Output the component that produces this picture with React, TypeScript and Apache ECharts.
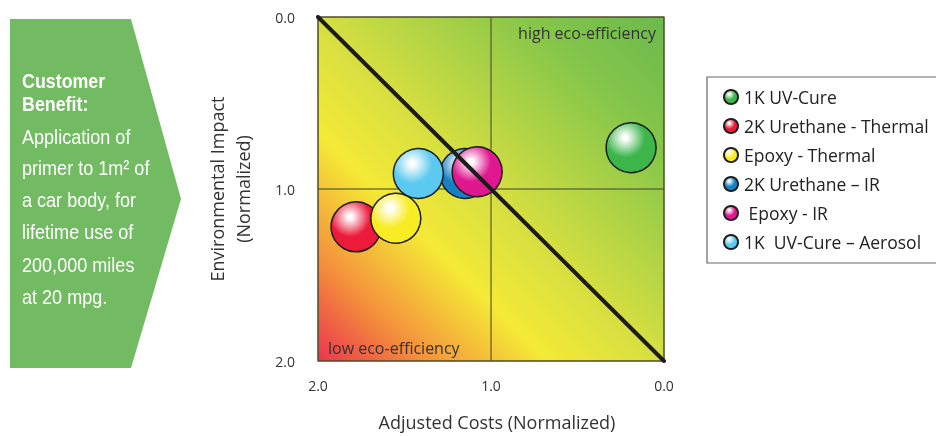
import React, { useEffect, useRef } from "react";
import * as echarts from "echarts";

const seriesNames = [
  "1K UV-Cure",
  "2K Urethane - Thermal",
  "Epoxy - Thermal",
  "2K Urethane – IR",
  " Epoxy - IR",
  "1K  UV-Cure – Aerosol",
];
const adjustedCosts = [0.19, 1.78, 1.55, 1.15, 1.08, 1.42];
const environmentalImpact = [0.76, 1.22, 1.17, 0.91, 0.9, 0.91];
const bubbleColors = ["#3cb54b", "#ec1b3b", "#f8ec24", "#1581c4", "#e0178e", "#5cc9f0"];
const tickValues = [0, 1, 2];
const referenceLine = [
  [2, 0],
  [0, 2],
];
const benefitTitle = ["Customer", "Benefit:"];
const benefitLines = [
  "Application of",
  "primer to 1m² of",
  "a car body, for",
  "lifetime use of",
  "200,000 miles",
  "at 20 mpg.",
];

const FONT = "'Open Sans', 'Noto Sans', sans-serif";
const NARROW = "'Liberation Sans', Arial, sans-serif";

function bubbleFill(color: string) {
  return new echarts.graphic.RadialGradient(0.38, 0.3, 0.72, [
    { offset: 0, color: "#ffffff" },
    { offset: 0.06, color: "#ffffff" },
    { offset: 0.55, color },
    { offset: 1, color },
  ]);
}

export default function App() {
  const ref = useRef<HTMLDivElement>(null);

  useEffect(() => {
    if (!ref.current) return;
    const chart = echarts.init(ref.current, null, { renderer: "svg" });

    const scatterSeries = seriesNames.map((name, i) => ({
      name,
      type: "scatter",
      data: [[adjustedCosts[i], environmentalImpact[i]]],
      symbol: "circle",
      symbolSize: 50,
      z: 3,
      itemStyle: {
        color: bubbleFill(bubbleColors[i]),
        borderColor: "#1e1e1e",
        borderWidth: 1.5,
        opacity: 1,
      },
      emphasis: { disabled: true },
    }));

    const titleY = [80, 103];
    const bodyY = [136.5, 167.5, 199.5, 231.5, 264, 296];
    const titleTexts = benefitTitle.map((t, i) => ({
      type: "text",
      x: 22,
      y: titleY[i],
      scaleX: 0.85,
      style: {
        text: t,
        fill: "#ffffff",
        font: `bold 21px ${NARROW}`,
        textAlign: "left",
        textVerticalAlign: "middle",
      },
    }));
    const bodyTexts = benefitLines.map((t, i) => ({
      type: "text",
      x: 22,
      y: bodyY[i],
      scaleX: 0.86,
      style: {
        text: t,
        fill: "#ffffff",
        font: `21px ${NARROW}`,
        textAlign: "left",
        textVerticalAlign: "middle",
      },
    }));

    chart.setOption({
      animation: false,
      grid: {
        left: 318,
        top: 17,
        width: 346,
        height: 346,
        show: true,
        borderColor: "rgba(70,60,30,0.55)",
        borderWidth: 1.5,
        backgroundColor: new echarts.graphic.LinearGradient(0, 1, 1, 0, [
          { offset: 0, color: "#ea354f" },
          { offset: 0.15, color: "#f48f3c" },
          { offset: 0.33, color: "#f5e936" },
          { offset: 0.5, color: "#d5df41" },
          { offset: 0.8, color: "#86c64a" },
          { offset: 1, color: "#6bb94d" },
        ]),
      },
      xAxis: {
        type: "value",
        min: tickValues[0],
        max: tickValues[tickValues.length - 1],
        interval: 1,
        inverse: true,
        name: "Adjusted Costs (Normalized)",
        nameLocation: "middle",
        nameGap: 52,
        nameTextStyle: { fontFamily: FONT, fontSize: 18, color: "#333", padding: [0, 0, 0, 12] },
        axisLine: { show: false },
        axisTick: { show: false },
        axisLabel: {
          margin: 17,
          fontFamily: FONT,
          fontSize: 14,
          color: "#333",
          formatter: (v: number) => v.toFixed(1),
        },
        splitLine: { show: true, lineStyle: { color: "rgba(80,80,40,0.75)", width: 1.5 } },
      },
      yAxis: {
        type: "value",
        min: tickValues[0],
        max: tickValues[tickValues.length - 1],
        interval: 1,
        inverse: true,
        name: "Environmental Impact\n(Normalized)",
        nameLocation: "middle",
        nameGap: 62,
        nameRotate: 90,
        nameTextStyle: { fontFamily: FONT, fontSize: 18, color: "#333", lineHeight: 26 },
        axisLine: { show: false },
        axisTick: { show: false },
        axisLabel: {
          margin: 23,
          fontFamily: FONT,
          fontSize: 14,
          color: "#333",
          formatter: (v: number) => v.toFixed(1),
        },
        splitLine: { show: true, lineStyle: { color: "rgba(80,80,40,0.75)", width: 1.5 } },
      },
      legend: {
        data: seriesNames,
        orient: "vertical",
        left: 707,
        top: 77,
        icon: "circle",
        itemWidth: 14,
        itemHeight: 14,
        itemGap: 11,
        padding: [11, 40, 12, 16],
        borderColor: "#666",
        borderWidth: 1.2,
        selectedMode: false,
        textStyle: { fontFamily: FONT, fontSize: 17.5, color: "#222", lineHeight: 17, padding: [0, 0, 0, 1] },
      },
      graphic: [
        {
          type: "polygon",
          shape: {
            points: [
              [10, 19],
              [131, 19],
              [181, 199],
              [131, 368],
              [10, 368],
            ],
          },
          style: { fill: "#72bb63" },
        },
        ...titleTexts,
        ...bodyTexts,
        {
          type: "text",
          x: 656,
          y: 33,
          style: {
            text: "high eco-efficiency",
            fill: "#333",
            font: `16px ${FONT}`,
            textAlign: "right",
            textVerticalAlign: "middle",
          },
        },
        {
          type: "text",
          x: 328,
          y: 348,
          style: {
            text: "low eco-efficiency",
            fill: "#333",
            font: `16px ${FONT}`,
            textAlign: "left",
            textVerticalAlign: "middle",
          },
        },
      ],
      series: [
        ...scatterSeries,
        {
          name: "reference",
          type: "line",
          data: referenceLine,
          symbol: "none",
          z: 5,
          lineStyle: { color: "#1c1c1c", width: 4, cap: "round" },
          emphasis: { disabled: true },
        },
      ],
    });

    return () => chart.dispose();
  }, []);

  return (
    <div
      ref={ref}
      style={{ position: "fixed", left: 0, top: 0, width: 936, height: 436 }}
    />
  );
}
